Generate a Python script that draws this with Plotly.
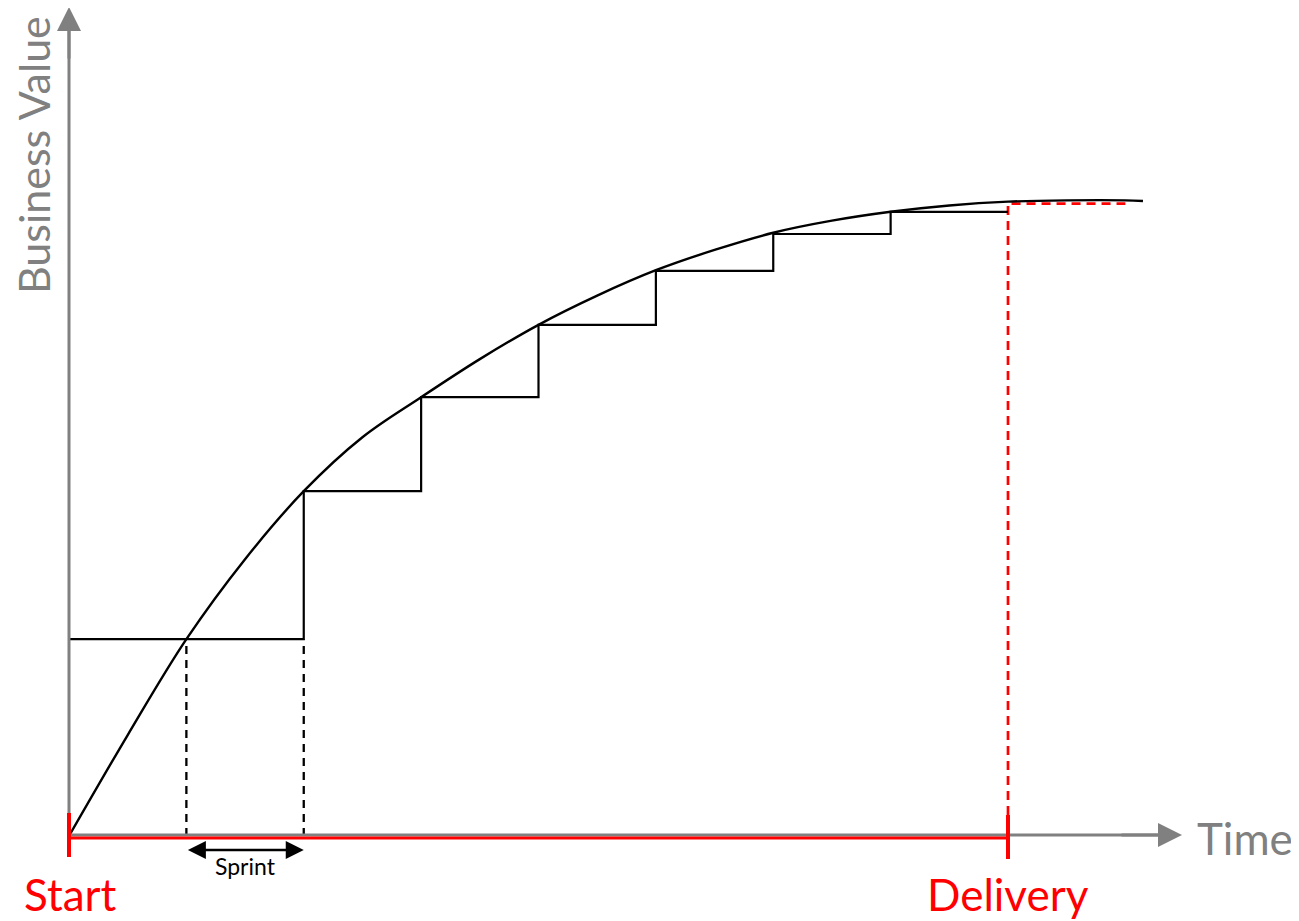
import plotly.graph_objects as go

# ---- data (time in sprints, value in % of final business value) ----
curve_t = [0, 0.5, 1, 1.5, 2, 2.5, 3, 3.5, 4, 4.5, 5, 5.5, 6, 6.5, 7, 7.5, 8, 8.5, 9, 9.15]
curve_v = [0, 15.9, 31.0, 43.6, 54.3, 62.8, 69.1, 75.1, 80.5, 85.1, 89.1, 92.3, 95.0, 96.9,
           98.3, 99.3, 99.9, 100.1, 100.1, 100.0]

step_t = [0, 2, 3, 4, 5, 6, 7, 8]
step_v = [31.0, 54.3, 69.1, 80.5, 89.0, 94.8, 98.3, 98.3]

sprint_start, sprint_end = 1, 2
delivery_t = 8
delivery_v = 99.6
plateau_end_t = 9.0

GRAY = "#808080"
RED = "#ff0000"
FONT = "Lato"

OFF = 8  # page body margin
PAGE_W, PAGE_H = 1299, 921
W, H = PAGE_W - OFF, PAGE_H - OFF

# mapping from page pixels: t=0 -> px 69, t=8 -> px 1008 ; v=0 -> px 836, v=100 -> px 201
px_per_t = (1008 - 69) / 8
px_per_v = (836 - 201) / 100


def xpx(p):
    return (p - 69) / px_per_t


def ypx(p):
    return (836 - p) / px_per_v


xr = [xpx(OFF), xpx(PAGE_W)]
yr = [ypx(PAGE_H), ypx(OFF)]

fig = go.Figure()

# gray axes
fig.add_shape(type="line", x0=0, y0=ypx(835), x1=0, y1=ypx(20), line=dict(color=GRAY, width=3))
fig.add_shape(type="line", x0=0, y0=ypx(835), x1=xpx(1168), y1=ypx(835), line=dict(color=GRAY, width=3))

# red timeline
fig.add_shape(type="line", x0=0, y0=ypx(838), x1=delivery_t, y1=ypx(838), line=dict(color=RED, width=3))
fig.add_shape(type="line", x0=0, y0=ypx(813), x1=0, y1=ypx(857), line=dict(color=RED, width=4))
fig.add_shape(type="line", x0=delivery_t, y0=ypx(815), x1=delivery_t, y1=ypx(859), line=dict(color=RED, width=4))

# dashed sprint markers
for t in (sprint_start, sprint_end):
    fig.add_trace(go.Scatter(x=[t, t], y=[0, step_v[0]], mode="lines",
                             line=dict(color="black", width=2.3, dash="8px,6px"), hoverinfo="skip"))

# red dashed delivery lines
fig.add_trace(go.Scatter(x=[delivery_t, delivery_t, plateau_end_t], y=[ypx(815), delivery_v, delivery_v],
                         mode="lines", line=dict(color=RED, width=2.7, dash="9px,6px"), hoverinfo="skip"))

# step function
fig.add_trace(go.Scatter(x=step_t, y=step_v, mode="lines", line=dict(color="black", width=2.2, shape="hv"),
                         hoverinfo="skip"))
# curve
fig.add_trace(go.Scatter(x=curve_t, y=curve_v, mode="lines",
                         line=dict(color="black", width=2.4, shape="spline", smoothing=1),
                         hoverinfo="skip"))

# arrowheads for axes
fig.add_annotation(x=0, y=ypx(7), ax=0, ay=ypx(60), xref="x", yref="y", axref="x", ayref="y",
                   text="", showarrow=True, arrowhead=2, arrowsize=1.6, arrowwidth=3, arrowcolor=GRAY, standoff=0)
fig.add_annotation(x=xpx(1182), y=ypx(835), ax=xpx(1120), ay=ypx(835), xref="x", yref="y", axref="x", ayref="y",
                   text="", showarrow=True, arrowhead=2, arrowsize=1.6, arrowwidth=3, arrowcolor=GRAY, standoff=0)

# sprint double arrow
fig.add_annotation(x=sprint_end, y=ypx(850), ax=sprint_start, ay=ypx(850), xref="x", yref="y",
                   axref="x", ayref="y", text="", showarrow=True, arrowhead=2, startarrowhead=2,
                   arrowside="end+start", arrowsize=1.5, startarrowsize=1.5, arrowwidth=2.4,
                   arrowcolor="black", standoff=0, startstandoff=0)
fig.add_annotation(x=(sprint_start + sprint_end) / 2, y=ypx(866), xref="x", yref="y", text="Sprint",
                   showarrow=False, font=dict(family=FONT, size=23, color="black"))

# labels
fig.add_annotation(x=xpx(33), y=ypx(155), xref="x", yref="y", text="Business Value", textangle=-90,
                   showarrow=False, font=dict(family=FONT, size=43, color=GRAY))
fig.add_annotation(x=xpx(1245), y=ypx(838), xref="x", yref="y", text="Time",
                   showarrow=False, font=dict(family=FONT, size=44, color=GRAY))
fig.add_annotation(x=xpx(70), y=ypx(894), xref="x", yref="y", text="Start",
                   showarrow=False, font=dict(family=FONT, size=44, color=RED))
fig.add_annotation(x=xpx(1008), y=ypx(894), xref="x", yref="y", text="Delivery",
                   showarrow=False, font=dict(family=FONT, size=44, color=RED))

fig.update_xaxes(range=xr, visible=False, fixedrange=True)
fig.update_yaxes(range=yr, visible=False, fixedrange=True)
fig.update_layout(width=W, height=H, margin=dict(l=0, r=0, t=0, b=0), showlegend=False,
                  plot_bgcolor="white", paper_bgcolor="white")

fig.write_html("out.html")
